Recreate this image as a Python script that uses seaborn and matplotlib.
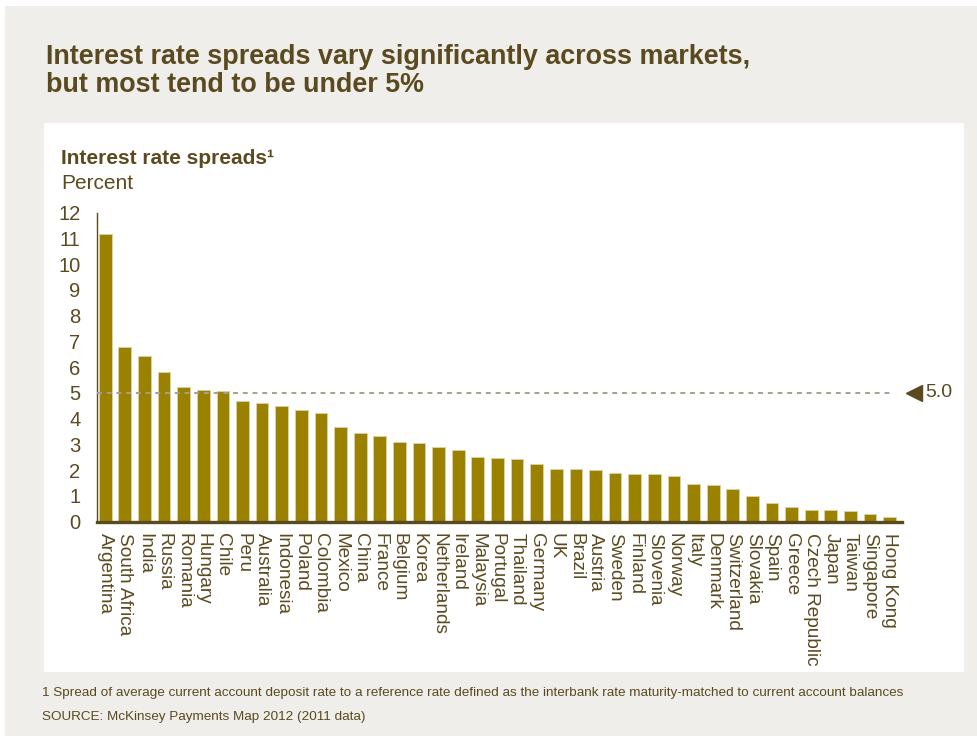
import numpy as np
import pandas as pd
import seaborn as sns
import matplotlib.pyplot as plt
from matplotlib.patches import Rectangle
from matplotlib import transforms
from matplotlib import font_manager

# Datos
paises = ["Argentina", "South Africa", "India", "Russia", "Romania", "Hungary", "Chile",
          "Peru", "Australia", "Indonesia", "Poland", "Colombia", "Mexico", "China",
          "France", "Belgium", "Korea", "Netherlands", "Ireland", "Malaysia", "Portugal",
          "Thailand", "Germany", "UK", "Brazil", "Austria", "Sweden", "Finland",
          "Slovenia", "Norway", "Italy", "Denmark", "Switzerland", "Slovakia", "Spain",
          "Greece", "Czech Republic", "Japan", "Taiwan", "Singapore", "Hong Kong"]
spreads = [11.17, 6.78, 6.43, 5.83, 5.23, 5.11, 5.07,
           4.69, 4.61, 4.48, 4.34, 4.23, 3.69, 3.46,
           3.34, 3.09, 3.06, 2.90, 2.78, 2.51, 2.47,
           2.43, 2.24, 2.06, 2.06, 1.99, 1.88, 1.84,
           1.84, 1.76, 1.48, 1.44, 1.28, 1.01, 0.72,
           0.57, 0.45, 0.45, 0.41, 0.30, 0.18]
umbral = 5.0
yticks = list(range(0, 13))

df = pd.DataFrame({"pais": paises, "spread": spreads})

marron = "#5b4a1f"
oliva = "#9a8200"
fondo = "#efeeea"

sns.set_style("white")
installed = {f.name for f in font_manager.fontManager.ttflist}
narrow = "Liberation Sans Narrow" if "Liberation Sans Narrow" in installed else "Liberation Sans"
plt.rcParams["font.family"] = ["Liberation Sans", "DejaVu Sans"]

fig = plt.figure(figsize=(9.77, 7.36), dpi=100, facecolor="white")
W, H = 977, 736
fig.patches.append(Rectangle((5 / W, 0), 1, 1 - 6 / H, transform=fig.transFigure,
                             facecolor=fondo, edgecolor="none", zorder=-2))
fig.patches.append(Rectangle((44 / W, 1 - 672 / H), (964 - 44) / W, (672 - 123) / H,
                             transform=fig.transFigure, facecolor="white",
                             edgecolor="none", zorder=-1))

ax = fig.add_axes([97 / W, 214.3 / H, (902 - 97) / W, 309 / H])
ax.set_facecolor("none")
sns.barplot(data=df, x="pais", y="spread", color=oliva, saturation=1, width=0.65,
            edgecolor="#ddd3a8", linewidth=0.6, ax=ax)

ax.set_xlim(-0.42, len(paises) - 0.37)
ax.set_ylim(0, 12)
ax.set_yticks(yticks)
ax.set_yticklabels([str(t) for t in yticks], fontsize=14.5, color=marron)
ax.tick_params(axis="y", direction="in", length=6, width=1, color=marron, pad=12)
ax.tick_params(axis="x", length=0, pad=8)
ax.set_xticks(range(len(paises)))
ax.set_xticklabels(paises, rotation=270, ha="center", va="top", fontsize=13.7, color=marron)
ax.set_xlabel("")
ax.set_ylabel("")
for s in ["top", "right"]:
    ax.spines[s].set_visible(False)
ax.spines["left"].set_color(marron)
ax.spines["left"].set_linewidth(1)
ax.spines["bottom"].set_color(marron)
ax.spines["bottom"].set_linewidth(2.4)
ax.spines["bottom"].set_zorder(5)

# Línea de referencia en 5%
trans = transforms.blended_transform_factory(ax.transAxes, ax.transData)
ax.plot([0, 0.989], [umbral, umbral], transform=trans, color="#a89f8d", lw=1.4,
        ls=(0, (2.5, 2.5)), zorder=4)
ax.plot([1.015], [umbral], transform=trans, marker="<", markersize=11, color=marron,
        clip_on=False)
ax.text(1.029, umbral, f"{umbral:.1f}", transform=trans, va="center", ha="left",
        fontsize=14, color=marron)

# Títulos
fig.text(46 / W, 1 - 44 / H, "Interest rate spreads vary significantly across markets,\nbut most tend to be under 5%",
         ha="left", va="top", fontsize=19.4, fontweight="bold", color=marron,
         family=[narrow, "DejaVu Sans"], linespacing=1.12)
fig.text(61 / W, 1 - 149 / H, "Interest rate spreads\u00b9", ha="left", va="top",
         fontsize=15, fontweight="bold", color=marron, family=[narrow, "DejaVu Sans"])
fig.text(61 / W, 1 - 174 / H, "Percent", ha="left", va="top", fontsize=15,
         color=marron, family=[narrow, "DejaVu Sans"])

# Notas
fig.text(42 / W, 1 - 693 / H, "1 Spread of average current account deposit rate to a reference rate defined as the interbank rate maturity-matched to current account balances",
         ha="left", va="center", fontsize=9.7, color=marron, family=[narrow, "DejaVu Sans"])
fig.text(42 / W, 1 - 717 / H, "SOURCE: McKinsey Payments Map 2012 (2011 data)",
         ha="left", va="center", fontsize=9.7, color=marron, family=[narrow, "DejaVu Sans"])

plt.savefig("out.png", dpi=100, facecolor=fig.get_facecolor())
